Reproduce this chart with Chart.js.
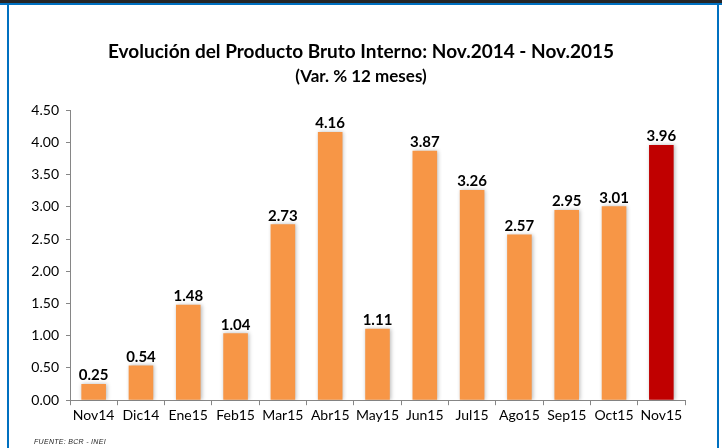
<!DOCTYPE html>
<html>
<head>
<meta charset="utf-8">
<script src="https://cdn.jsdelivr.net/npm/chart.js@4/dist/chart.umd.min.js"></script>
<style>
  html, body { margin: 0; padding: 0; background: #fff; }
  #wrap { position: relative; width: 722px; height: 448px; overflow: hidden; }
  #topband { position: absolute; left: 0; top: 0; width: 722px; height: 3px; background: #262626; }
  #topline { position: absolute; left: 0; top: 3px; width: 722px; height: 2px; background: #0070C0; }
  #leftline { position: absolute; left: 7px; top: 5px; width: 2px; height: 443px; background: #0070C0; }
  #rightline { position: absolute; left: 717px; top: 5px; width: 2px; height: 443px; background: #0070C0; }
  #fuente { position: absolute; left: 34px; top: 438px; font: italic 7px "Liberation Sans", Arial, sans-serif; color: #222; letter-spacing: 0.3px; }
  canvas { position: absolute; left: 0; top: 0; }
</style>
</head>
<body>
<div id="wrap">
  <canvas id="pbiChart" width="722" height="448"></canvas>
  <div id="topband"></div>
  <div id="topline"></div>
  <div id="leftline"></div>
  <div id="rightline"></div>
  <div id="fuente">FUENTE: BCR - INEI</div>
</div>
<script>
document.addEventListener('DOMContentLoaded', function () {
    const months = ['Nov14', 'Dic14', 'Ene15', 'Feb15', 'Mar15', 'Abr15', 'May15',
                    'Jun15', 'Jul15', 'Ago15', 'Sep15', 'Oct15', 'Nov15'];
    const pbiVar = [0.25, 0.54, 1.48, 1.04, 2.73, 4.16, 1.11, 3.87, 3.26, 2.57, 2.95, 3.01, 3.96];
    const yTicks = [0, 0.5, 1, 1.5, 2, 2.5, 3, 3.5, 4, 4.5];

    const orange = '#F79646';
    const red = '#C00000';
    const fontFamily = 'Lato, "Open Sans", sans-serif';

    const barColors = months.map((m, i) => i === months.length - 1 ? red : orange);

    // soft shadow behind the bars
    const barShadow = {
        id: 'barShadow',
        beforeDatasetDraw(chart) {
            const ctx = chart.ctx;
            ctx.save();
            ctx.shadowColor = 'rgba(0,0,0,0.28)';
            ctx.shadowBlur = 4;
            ctx.shadowOffsetX = 1;
            ctx.shadowOffsetY = 0;
        },
        afterDatasetDraw(chart) {
            chart.ctx.restore();
        }
    };

    // value labels above each bar
    const valueLabels = {
        id: 'valueLabels',
        afterDatasetsDraw(chart) {
            const ctx = chart.ctx;
            const meta = chart.getDatasetMeta(0);
            ctx.save();
            ctx.font = 'bold 15px ' + fontFamily;
            ctx.fillStyle = '#000';
            ctx.textAlign = 'center';
            ctx.textBaseline = 'bottom';
            meta.data.forEach((bar, i) => {
                ctx.fillText(pbiVar[i].toFixed(2), bar.x, bar.y - 1);
            });
            ctx.restore();
        }
    };

    new Chart(document.getElementById('pbiChart'), {
        type: 'bar',
        data: {
            labels: months,
            datasets: [{
                data: pbiVar,
                backgroundColor: barColors,
                borderWidth: 0,
                barPercentage: 0.52,
                categoryPercentage: 1
            }]
        },
        options: {
            responsive: false,
            animation: false,
            layout: { padding: { left: 0, right: 0, top: 0, bottom: 22 } },
            plugins: {
                legend: { display: false },
                tooltip: { enabled: false },
                title: {
                    display: true,
                    text: 'Evolución del Producto Bruto Interno: Nov.2014 - Nov.2015',
                    color: '#000',
                    font: { family: fontFamily, size: 19, weight: 'bold' },
                    padding: { top: 40, bottom: 4 }
                },
                subtitle: {
                    display: true,
                    text: '(Var. % 12 meses)',
                    color: '#000',
                    font: { family: fontFamily, size: 17, weight: 'bold' },
                    padding: { top: 0, bottom: 23 }
                }
            },
            scales: {
                x: {
                    offset: true,
                    grid: {
                        offset: true,
                        drawOnChartArea: false,
                        drawTicks: true,
                        tickLength: 5,
                        color: '#868686'
                    },
                    border: { color: '#868686', width: 1 },
                    ticks: {
                        color: '#000',
                        font: { family: fontFamily, size: 14 },
                        padding: 2,
                        maxRotation: 0
                    }
                },
                y: {
                    min: 0,
                    max: 4.5,
                    afterBuildTicks(scale) {
                        scale.ticks = yTicks.map(v => ({ value: v }));
                    },
                    afterFit(scale) {
                        scale.width = 70;
                    },
                    grid: {
                        drawOnChartArea: false,
                        drawTicks: true,
                        tickLength: 4,
                        color: '#868686'
                    },
                    border: { color: '#868686', width: 1 },
                    ticks: {
                        color: '#000',
                        font: { family: fontFamily, size: 14 },
                        padding: 7,
                        callback: v => Number(v).toFixed(2)
                    }
                },
                // empty axis that only reserves the right margin
                yRight: {
                    position: 'right',
                    min: 0,
                    max: 4.5,
                    afterFit(scale) {
                        scale.width = 37;
                    },
                    grid: { display: false },
                    border: { display: false },
                    ticks: { display: false }
                }
            }
        },
        plugins: [barShadow, valueLabels]
    });
});
</script>
</body>
</html>
